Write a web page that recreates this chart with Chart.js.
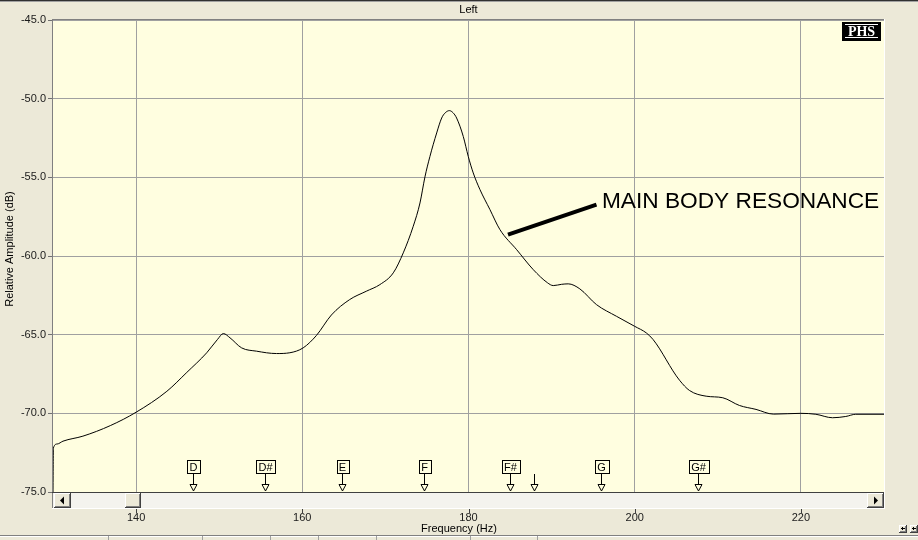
<!DOCTYPE html>
<html><head><meta charset="utf-8">
<script src="https://cdn.jsdelivr.net/npm/chart.js@4/dist/chart.umd.min.js"></script>
<style>html,body{margin:0;padding:0;background:#ECE9D8;overflow:hidden}#wrap{width:918px;height:540px;position:relative}canvas{display:block}</style>
</head><body><div id="wrap"><canvas id="c" width="918" height="540"></canvas></div>
<script>
// ---- data ----
const freqHz = [130.0,130.05,130.5,131.2,133.6,136.9,140.0,143.7,146.1,148.5,149.8,150.5,151.3,152.7,154.5,156.9,158.5,160.1,161.7,163.5,165.7,167.7,169.33,170.95,172.15,173.35,174.16,174.76,175.36,176.17,176.77,177.2,177.7,178.15,178.57,179.37,179.97,180.57,181.38,182.58,183.78,185.8,187.8,189.5,190.2,191.2,192.0,193.4,195.4,197.8,200.0,201.4,202.2,203.0,203.8,204.6,205.4,206.6,208.6,210.6,212.6,214.6,216.7,220.0,221.8,223.8,225.4,226.6,230.0];
const amplitudeDb = [-75.0,-72.2,-71.95,-71.77,-71.45,-70.78,-69.93,-68.6,-67.4,-66.15,-65.3,-64.93,-65.2,-65.84,-66.05,-66.2,-66.15,-65.84,-65.05,-63.75,-62.77,-62.24,-61.82,-61.07,-59.8,-58.11,-56.63,-54.97,-53.67,-52.18,-51.23,-50.9,-50.76,-50.9,-51.23,-52.4,-53.67,-54.72,-55.78,-57.05,-58.32,-59.6,-60.87,-61.7,-61.88,-61.8,-61.77,-62.09,-63.09,-63.83,-64.47,-64.89,-65.3,-65.9,-66.6,-67.3,-67.9,-68.55,-68.91,-69.01,-69.5,-69.75,-70.05,-70.0,-70.06,-70.28,-70.2,-70.06,-70.06];
const xTicks = [140,160,180,200,220];
const yTicks = [-75,-70,-65,-60,-55,-50,-45];
const noteNames = ['D','D#','E','F','F#','G','G#'];
const noteFreqs = [146.83,155.56,164.81,174.61,185.0,196.0,207.65];
const cursorFreqs = [187.9];
const annotationText = 'MAIN BODY RESONANCE';
const annotationLine = [[184.75,-58.64],[195.4,-56.73]];
const annotationTextAt = [196.05,-56.93];
const chartTitle = 'Left';
const xTitle = 'Frequency (Hz)';
const yTitle = 'Relative Amplitude (dB)';
const logoText = 'PHS';

const WIN_BG = '#ECE9D8', PLOT_BG = '#FFFEE0', GRID = '#A0A0A0';
const FONT = '"Liberation Sans", Arial, sans-serif';

const decor = {
  id: 'decor',
  beforeDraw(chart) {
    const ctx = chart.ctx, ca = chart.chartArea;
    ctx.save();
    ctx.fillStyle = WIN_BG; ctx.fillRect(0, 0, chart.width, chart.height);
    ctx.fillStyle = PLOT_BG; ctx.fillRect(ca.left, ca.top, ca.right - ca.left, ca.bottom - ca.top);
    ctx.restore();
  },
  afterDraw(chart) {
    const ctx = chart.ctx, ca = chart.chartArea;
    const sx = v => chart.scales.x.getPixelForValue(v);
    const sy = v => chart.scales.y.getPixelForValue(v);
    const L = ca.left, R = ca.right, T = ca.top, B = ca.bottom;
    ctx.save();
    // window top border
    ctx.fillStyle = '#303030'; ctx.fillRect(0, 0, chart.width, 1);
    ctx.fillStyle = '#A0A0A0'; ctx.fillRect(0, 1, chart.width, 1);
    // title
    ctx.fillStyle = '#000'; ctx.font = '11px ' + FONT; ctx.textAlign = 'center'; ctx.textBaseline = 'middle';
    ctx.fillText(chartTitle, (L + R) / 2, 10);

    // scrollbar
    const sbH = 16;
    ctx.fillStyle = '#F4F3EE'; ctx.fillRect(L, B, R - L, sbH);
    function btn(x, y, w, h) {
      ctx.fillStyle = WIN_BG; ctx.fillRect(x, y, w, h);
      ctx.fillStyle = '#FFFFFF'; ctx.fillRect(x, y, w - 1, 1); ctx.fillRect(x, y, 1, h - 1);
      ctx.fillStyle = '#808080'; ctx.fillRect(x + w - 2, y + 1, 1, h - 2); ctx.fillRect(x + 1, y + h - 2, w - 2, 1);
      ctx.fillStyle = '#404040'; ctx.fillRect(x + w - 1, y, 1, h); ctx.fillRect(x, y + h - 1, w, 1);
    }
    btn(L + 1, B + 1, 17, sbH - 1);
    btn(R - 17, B + 1, 17, sbH - 1);
    btn(L + 72, B + 1, 16, sbH - 1);
    ctx.fillStyle = '#000';
    ctx.beginPath(); ctx.moveTo(L + 7, B + 8.5); ctx.lineTo(L + 11, B + 4.5); ctx.lineTo(L + 11, B + 12.5); ctx.closePath(); ctx.fill();
    ctx.beginPath(); ctx.moveTo(R - 6, B + 8.5); ctx.lineTo(R - 10, B + 4.5); ctx.lineTo(R - 10, B + 12.5); ctx.closePath(); ctx.fill();

    // frame around plot and scrollbar
    ctx.fillStyle = '#808080'; ctx.fillRect(L - 1, T - 1, R - L + 2, 1); ctx.fillRect(L - 1, T - 1, 1, B - T + sbH + 1);
    ctx.fillStyle = '#FFFFFF'; ctx.fillRect(R, T - 1, 1, B - T + sbH + 2); ctx.fillRect(L - 1, B + sbH, R - L + 2, 1);
    ctx.fillStyle = '#404040'; ctx.fillRect(L - 1, B, R - L + 1, 1);

    // x tick marks under the scrollbar
    ctx.strokeStyle = '#404040'; ctx.lineWidth = 1;
    xTicks.forEach(v => {
      const x = Math.round(sx(v)) + 0.5;
      ctx.beginPath(); ctx.moveTo(x, B + sbH + 1); ctx.lineTo(x, B + sbH + 5); ctx.stroke();
    });
    // axis titles
    ctx.fillStyle = '#000'; ctx.font = '11px ' + FONT; ctx.textAlign = 'center'; ctx.textBaseline = 'middle';
    ctx.fillText(xTitle, chart.width / 2, 529);
    ctx.save(); ctx.translate(10, 249); ctx.rotate(-Math.PI / 2); ctx.fillText(yTitle, 0, 0); ctx.restore();

    // note markers
    function arrow(x, y0) {
      ctx.strokeStyle = '#000'; ctx.lineWidth = 1;
      ctx.beginPath(); ctx.moveTo(x, y0); ctx.lineTo(x, B - 7); ctx.stroke();
      ctx.beginPath(); ctx.moveTo(x - 3.5, B - 7.5); ctx.lineTo(x + 3.5, B - 7.5); ctx.lineTo(x, B - 1); ctx.closePath();
      ctx.fillStyle = PLOT_BG; ctx.fill(); ctx.stroke();
    }
    ctx.font = '11px ' + FONT;
    noteNames.forEach((n, i) => {
      const x = Math.round(sx(noteFreqs[i])) + 0.5;
      const w = Math.round(ctx.measureText(n).width) + 5;
      const top = B - 31.5, h = 13;
      ctx.fillStyle = PLOT_BG; ctx.fillRect(Math.round(x - w / 2) + 0.5, top, w, h);
      ctx.strokeStyle = '#000'; ctx.lineWidth = 1; ctx.strokeRect(Math.round(x - w / 2) + 0.5, top, w, h);
      ctx.fillStyle = '#000'; ctx.textAlign = 'center'; ctx.textBaseline = 'middle';
      ctx.fillText(n, x, top + h / 2 + 0.5);
      arrow(x, top + h);
    });
    cursorFreqs.forEach(f => arrow(Math.round(sx(f)) + 0.5, B - 18));

    // annotation
    ctx.strokeStyle = '#000'; ctx.lineWidth = 4; ctx.lineCap = 'butt';
    ctx.beginPath(); ctx.moveTo(sx(annotationLine[0][0]), sy(annotationLine[0][1]));
    ctx.lineTo(sx(annotationLine[1][0]), sy(annotationLine[1][1])); ctx.stroke();
    ctx.fillStyle = '#000'; ctx.font = '22.7px ' + FONT; ctx.textAlign = 'left'; ctx.textBaseline = 'alphabetic';
    ctx.fillText(annotationText, sx(annotationTextAt[0]), sy(annotationTextAt[1]));

    // PHS logo
    ctx.fillStyle = '#000'; ctx.fillRect(R - 42, T + 2, 39, 19);
    ctx.fillStyle = '#FFF'; ctx.fillRect(R - 39, T + 4, 33, 1); ctx.fillRect(R - 39, T + 17, 33, 1);
    ctx.font = 'bold 14px "Liberation Serif", "DejaVu Serif", serif'; ctx.textAlign = 'center'; ctx.textBaseline = 'alphabetic';
    ctx.fillText(logoText, R - 22.5, T + 16);

    // bottom status bar line and small buttons
    ctx.fillStyle = '#808080'; ctx.fillRect(0, 535, chart.width, 1);
    ctx.fillStyle = '#FFFFFF'; ctx.fillRect(0, 536, chart.width, 1);
    [108, 202, 270, 318, 376, 470, 537].forEach(x => { ctx.fillStyle = '#A0A0A0'; ctx.fillRect(x, 536, 1, 4); });
    [899, 910].forEach(x => {
      btn(x, 525, 8, 8);
      ctx.fillStyle = '#000'; ctx.fillRect(x + 2, 528, 4, 1); ctx.fillRect(x + 3, 527, 1, 3);
    });
    ctx.restore();
  }
};

new Chart(document.getElementById('c'), {
  type: 'line',
  data: { datasets: [{
    data: freqHz.map((f, i) => ({ x: f, y: amplitudeDb[i] })),
    borderColor: '#000', borderWidth: 1, pointRadius: 0, fill: false,
    cubicInterpolationMode: 'monotone'
  }] },
  options: {
    responsive: false, animation: false, devicePixelRatio: 1,
    layout: { padding: { top: 20, right: 34, left: 0, bottom: 0 } },
    plugins: { legend: { display: false }, tooltip: { enabled: false }, title: { display: false } },
    scales: {
      x: {
        type: 'linear', min: 130, max: 230,
        afterBuildTicks: s => { s.ticks = xTicks.map(v => ({ value: v })); },
        afterFit: s => { s.height = 48; },
        grid: { color: GRID, lineWidth: 1, drawTicks: false },
        border: { display: false },
        ticks: { font: { family: 'Liberation Sans', size: 11 }, color: '#1A1A1A', padding: 19, maxRotation: 0, autoSkip: false, callback: v => String(v) }
      },
      y: {
        min: -75, max: -45,
        afterBuildTicks: s => { s.ticks = yTicks.map(v => ({ value: v })); },
        afterFit: s => { s.width = 53; },
        grid: { color: GRID, lineWidth: 1, drawTicks: true, tickLength: 5, tickColor: '#707070' },
        border: { display: false },
        ticks: { font: { family: 'Liberation Sans', size: 11 }, color: '#1A1A1A', padding: 2, autoSkip: false, callback: v => Number(v).toFixed(1) }
      }
    }
  },
  plugins: [decor]
});
</script></body></html>
